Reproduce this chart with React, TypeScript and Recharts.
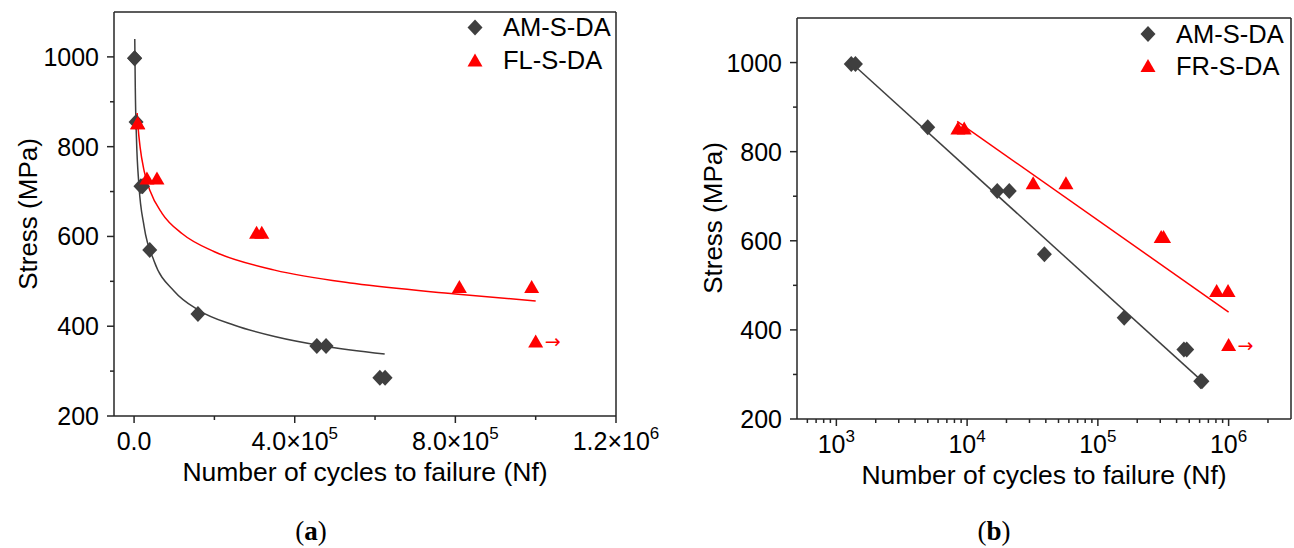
import { ComposedChart, Scatter, Line, XAxis, YAxis, Legend, ReferenceLine } from "recharts";

const FONT = "'Liberation Sans', Arial, sans-serif";
const DARK = "#3f3f3f";
const RED = "#ff0000";
const AXIS = "#262626";

// measured fatigue points (shared by both panels)
const amCycles = [1300, 1400, 5000, 17000, 21000, 39000, 159000, 455000, 478000, 612000, 625000];
const amStress = [997, 997, 855, 712, 712, 570, 427, 356, 356, 285, 285];
const flCycles = [8500, 9500, 32000, 57000, 305000, 318000, 810000, 990000];
const flStress = [850, 850, 727, 727, 606, 606, 485, 485];
const runoutCycles = [1000000];
const runoutStress = [364];

// fitted curves
const amFitCyclesA = [1700, 3000, 6000, 12000, 25000, 50000, 100000, 160000, 250000, 350000, 470000, 624000];
const amFitStressA = [1040, 932, 817, 715, 622, 545, 478, 436, 402, 377, 356, 338];
const flFitCyclesA = [7600, 10000, 15000, 25000, 40000, 70000, 120000, 200000, 350000, 550000, 800000, 1000000];
const flFitStressA = [875, 843, 799, 746, 701, 651, 606, 566, 525, 495, 472, 456];

// fitted lines
const amFitCyclesB = [1350, 600000];
const amFitStressB = [995, 290];
const frFitCyclesB = [8400, 1000000];
const frFitStressB = [868, 440];

// axes
const xDomainA = [-50000, 1200000];
const xTicksA = [0, 200000, 400000, 600000, 800000, 1000000, 1200000];
const xTickLabelsA = ["0.0", "", "4.0×10^5", "", "8.0×10^5", "", "1.2×10^6"];
const xDomainB = [500, 3000000];
const xTicksB = [
  600, 700, 800, 900, 1000, 2000, 3000, 4000, 5000, 6000, 7000, 8000, 9000, 10000,
  20000, 30000, 40000, 50000, 60000, 70000, 80000, 90000, 100000,
  200000, 300000, 400000, 500000, 600000, 700000, 800000, 900000, 1000000, 2000000,
];
const xMajorB = [1000, 10000, 100000, 1000000];
const xMajorLabelsB = ["10^3", "10^4", "10^5", "10^6"];
const yDomain = [200, 1100];
const yTicks = [200, 300, 400, 500, 600, 700, 800, 900, 1000];
const yTickLabels = ["200", "", "400", "", "600", "", "800", "", "1000"];

const legendA = ["AM-S-DA", "FL-S-DA"];
const legendB = ["AM-S-DA", "FR-S-DA"];

const pts = (xs: number[], ys: number[]) => xs.map((x, i) => ({ x, y: ys[i] }));

const Diamond = (p: any) => {
  const { cx, cy } = p;
  if (cx == null || cy == null) return null;
  return <path d={`M${cx},${cy - 8}L${cx + 7.5},${cy}L${cx},${cy + 8}L${cx - 7.5},${cy}Z`} fill={DARK} />;
};

const Triangle = (p: any) => {
  const { cx, cy } = p;
  if (cx == null || cy == null) return null;
  return <path d={`M${cx},${cy - 8}L${cx + 7.5},${cy + 5}L${cx - 7.5},${cy + 5}Z`} fill={RED} />;
};

const RunOut = (p: any) => {
  const { cx, cy } = p;
  if (cx == null || cy == null) return null;
  return (
    <g>
      <Triangle cx={cx} cy={cy} />
      <text x={cx + 9} y={cy + 6} fill={RED} fontSize={19} fontFamily="'DejaVu Sans', sans-serif">
        →
      </text>
    </g>
  );
};

// "4.0×10^5" -> base text + superscript
const SupText = ({ label, x, y, anchor }: { label: string; x: number; y: number; anchor: string }) => {
  const [base, sup] = label.split("^");
  return (
    <text x={x} y={y} textAnchor={anchor} fontFamily={FONT} fontSize={25} fill="#000">
      {base}
      {sup && (
        <tspan dy={-11} fontSize={17}>
          {sup}
        </tspan>
      )}
    </text>
  );
};

const makeXTickA = (props: any) => {
  const { x, y, payload } = props;
  const i = xTicksA.indexOf(payload.value);
  const label = xTickLabelsA[i] || "";
  return (
    <g>
      <line x1={x} x2={x} y1={y} y2={y + (label ? 7 : 4)} stroke={AXIS} strokeWidth={1.5} />
      {label && <SupText label={label} x={x} y={y + 34} anchor="middle" />}
    </g>
  );
};

const makeXTickB = (props: any) => {
  const { x, y, payload } = props;
  const i = xMajorB.indexOf(payload.value);
  const label = i >= 0 ? xMajorLabelsB[i] : "";
  return (
    <g>
      <line x1={x} x2={x} y1={y} y2={y + (label ? 7 : 4)} stroke={AXIS} strokeWidth={1.5} />
      {label && <SupText label={label} x={x} y={y + 34} anchor="middle" />}
    </g>
  );
};

const makeYTick = (props: any) => {
  const { x, y, payload } = props;
  const i = yTicks.indexOf(payload.value);
  const label = yTickLabels[i] || "";
  return (
    <g>
      <line x1={x} x2={x - (label ? 7 : 4)} y1={y} y2={y} stroke={AXIS} strokeWidth={1.5} />
      {label && <SupText label={label} x={x - 15} y={y + 9} anchor="end" />}
    </g>
  );
};

const Titles = ({ yTitleX, yTitleY, xTitleX, xTitleY, caption, capX }: any) => (
  <g fontFamily={FONT} fill="#000">
    <text
      x={yTitleX}
      y={yTitleY}
      transform={`rotate(-90 ${yTitleX} ${yTitleY})`}
      textAnchor="middle"
      fontSize={26}
    >
      Stress (MPa)
    </text>
    <text x={xTitleX} y={xTitleY} textAnchor="middle" fontSize={26.5}>
      Number of cycles to failure (Nf)
    </text>
    <text x={capX} y={540} textAnchor="middle" fontSize={27} fontFamily="'Liberation Serif', 'DejaVu Serif', serif">
      (<tspan fontWeight="bold">{caption}</tspan>)
    </text>
  </g>
);

const LegendBox = ({ names, rowH }: { names: string[]; rowH: number }) => (
  <div style={{ fontFamily: FONT, fontSize: 25.5, color: "#000", whiteSpace: "nowrap" }}>
    {names.map((name, i) => (
      <div key={name} style={{ display: "flex", alignItems: "center", height: rowH }}>
        <svg width={26} height={rowH} style={{ display: "block" }}>
          {i === 0 ? <Diamond cx={13} cy={rowH / 2} /> : <Triangle cx={13} cy={rowH / 2 + 1} />}
        </svg>
        <span style={{ marginLeft: 15, lineHeight: `${rowH}px` }}>{name}</span>
      </div>
    ))}
  </div>
);

const frame = { stroke: AXIS, strokeWidth: 1.5 };

function PanelA() {
  return (
    <ComposedChart width={660} height={548} margin={{ top: 12, right: 44, bottom: 72, left: 0 }}>
      <XAxis
        type="number"
        dataKey="x"
        domain={xDomainA}
        ticks={xTicksA}
        interval={0}
        tickSize={0}
        tickMargin={0}
        tickLine={false}
        tick={makeXTickA}
        height={60}
        allowDataOverflow
        axisLine={frame}
        label={<Titles yTitleX={37} yTitleY={214} xTitleX={365} xTitleY={481} caption="a" capX={311} />}
      />
      <YAxis
        type="number"
        dataKey="y"
        domain={yDomain}
        ticks={yTicks}
        interval={0}
        tickSize={0}
        tickMargin={0}
        tickLine={false}
        tick={makeYTick}
        width={114}
        allowDataOverflow
        axisLine={frame}
      />
      <ReferenceLine y={yDomain[1]} {...frame} />
      <ReferenceLine x={xDomainA[1]} {...frame} />
      <Line data={pts(amFitCyclesA, amFitStressA)} dataKey="y" type="monotone" stroke={DARK} strokeWidth={1.5} dot={false} activeDot={false} isAnimationActive={false} />
      <Line data={pts(flFitCyclesA, flFitStressA)} dataKey="y" type="monotone" stroke={RED} strokeWidth={1.5} dot={false} activeDot={false} isAnimationActive={false} />
      <Scatter name="AM-S-DA" data={pts(amCycles, amStress)} dataKey="y" shape={Diamond} isAnimationActive={false} />
      <Scatter name="FL-S-DA" data={pts(flCycles, flStress)} dataKey="y" shape={Triangle} isAnimationActive={false} />
      <Scatter data={pts(runoutCycles, runoutStress)} dataKey="y" shape={RunOut} isAnimationActive={false} />
      <Legend
        layout="vertical"
        align="center"
        verticalAlign="middle"
        content={() => <LegendBox names={legendA} rowH={33} />}
        wrapperStyle={{ left: 462, top: 11, width: 160, height: 70 }}
      />
    </ComposedChart>
  );
}

function PanelB() {
  return (
    <ComposedChart width={634} height={548} margin={{ top: 18, right: 3, bottom: 69, left: 0 }}>
      <XAxis
        type="number"
        dataKey="x"
        scale="log"
        domain={xDomainB}
        ticks={xTicksB}
        interval={0}
        tickSize={0}
        tickMargin={0}
        tickLine={false}
        tick={makeXTickB}
        height={60}
        allowDataOverflow
        axisLine={frame}
        label={<Titles yTitleX={62} yTitleY={218} xTitleX={384} xTitleY={484} caption="b" capX={334} />}
      />
      <YAxis
        type="number"
        dataKey="y"
        domain={yDomain}
        ticks={yTicks}
        interval={0}
        tickSize={0}
        tickMargin={0}
        tickLine={false}
        tick={makeYTick}
        width={137}
        allowDataOverflow
        axisLine={frame}
      />
      <ReferenceLine y={yDomain[1]} {...frame} />
      <ReferenceLine x={xDomainB[1]} {...frame} />
      <Line data={pts(amFitCyclesB, amFitStressB)} dataKey="y" type="linear" stroke={DARK} strokeWidth={1.5} dot={false} activeDot={false} isAnimationActive={false} />
      <Line data={pts(frFitCyclesB, frFitStressB)} dataKey="y" type="linear" stroke={RED} strokeWidth={1.5} dot={false} activeDot={false} isAnimationActive={false} />
      <Scatter name="AM-S-DA" data={pts(amCycles, amStress)} dataKey="y" shape={Diamond} isAnimationActive={false} />
      <Scatter name="FR-S-DA" data={pts(flCycles, flStress)} dataKey="y" shape={Triangle} isAnimationActive={false} />
      <Scatter data={pts(runoutCycles, runoutStress)} dataKey="y" shape={RunOut} isAnimationActive={false} />
      <Legend
        layout="vertical"
        align="center"
        verticalAlign="middle"
        content={() => <LegendBox names={legendB} rowH={32} />}
        wrapperStyle={{ left: 475, top: 18, width: 160, height: 66 }}
      />
    </ComposedChart>
  );
}

export default function App() {
  return (
    <div style={{ position: "absolute", left: 0, top: 0, width: 1294, height: 548, background: "#fff" }}>
      <div style={{ position: "absolute", left: 0, top: 0 }}>
        <PanelA />
      </div>
      <div style={{ position: "absolute", left: 660, top: 0 }}>
        <PanelB />
      </div>
    </div>
  );
}
